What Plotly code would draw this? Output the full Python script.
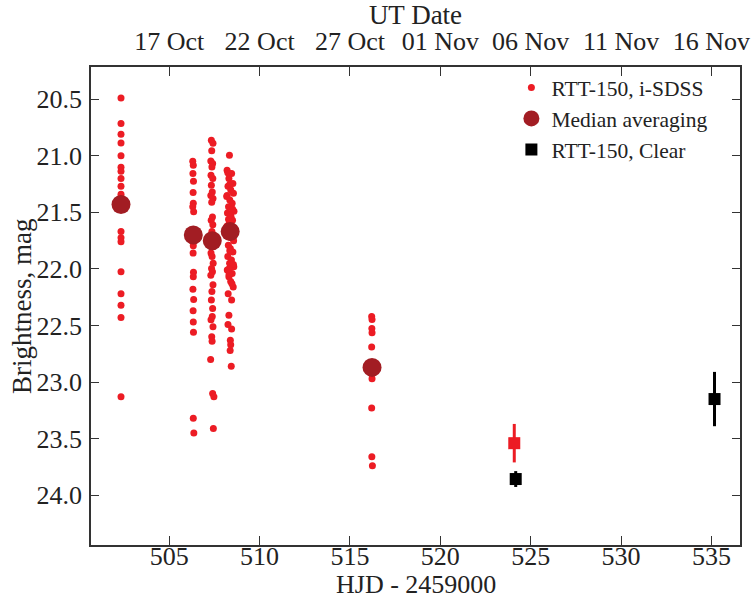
import plotly.graph_objects as go

# ---- data ----
# night 1 (HJD-2459000 ~ 502.3)
n1_hjd = [502.33]*18
n1_mag = [20.49, 20.715, 20.81, 20.886, 21.0, 21.10, 21.136, 21.27, 21.34,
          21.67, 21.725, 21.76, 22.025, 22.22, 22.32, 22.43, 23.13, 21.2]
# night 2 (~506.3)
n2_hjd = [506.30, 506.33, 506.31, 506.34, 506.32, 506.33, 506.30, 506.35, 506.33,
          506.32, 506.34, 506.33, 506.31, 506.35, 506.32, 506.33, 506.34, 506.31,
          506.33, 506.36]
n2_mag = [21.048, 21.083, 21.157, 21.224, 21.325, 21.42, 21.45, 21.495, 21.796,
          21.86, 22.03, 22.07, 22.18, 22.27, 22.37, 22.47, 22.56, 21.75, 23.32, 23.45]
# night 3 (~507.4)
n3_hjd = [507.33, 507.42, 507.35, 507.30, 507.40, 507.36, 507.31, 507.41, 507.33,
          507.38, 507.30, 507.42, 507.35, 507.39, 507.32, 507.41, 507.36, 507.40,
          507.31, 507.37, 507.43, 507.34, 507.39, 507.30, 507.42, 507.36, 507.33,
          507.40, 507.38, 507.31, 507.42, 507.35, 507.37, 507.29, 507.40, 507.47,
          507.44]
n3_mag = [20.862, 20.89, 20.956, 21.045, 21.068, 21.098, 21.171, 21.2, 21.26,
          21.32, 21.35, 21.377, 21.41, 21.54, 21.57, 21.61, 21.67, 21.80,
          21.86, 21.89, 21.95, 21.996, 22.025, 22.055, 22.14, 22.20, 22.275,
          22.35, 22.42, 22.45, 22.51, 22.60, 22.64, 22.80, 23.10, 23.13, 23.41]
# night 4 (~508.4)
n4_hjd = [508.33, 508.20, 508.45, 508.30, 508.52, 508.25, 508.40, 508.55, 508.18,
          508.35, 508.48, 508.28, 508.58, 508.22, 508.42, 508.50, 508.32, 508.20,
          508.46, 508.56, 508.27, 508.38, 508.52, 508.24, 508.44, 508.34, 508.57,
          508.21, 508.48, 508.30, 508.40, 508.54, 508.26, 508.45, 508.36, 508.20,
          508.50, 508.28, 508.42, 508.35, 508.55, 508.31, 508.47, 508.24, 508.39,
          508.30, 508.25, 508.45, 508.38, 508.40, 508.37, 508.43, 508.36, 508.30]
n4_mag = [20.995, 21.127, 21.157, 21.20, 21.245, 21.27, 21.30, 21.33, 21.36,
          21.39, 21.42, 21.45, 21.49, 21.505, 21.54, 21.57, 21.60, 21.62,
          21.70, 21.75, 21.79, 21.82, 21.85, 21.89, 21.92, 21.95, 21.98,
          22.01, 22.04, 22.07, 22.11, 22.16, 22.22, 22.275, 21.25, 21.35,
          21.47, 21.56, 21.66, 21.84, 21.96, 22.05, 22.13, 21.15, 21.52,
          22.41, 22.49, 22.53, 22.63, 22.67, 22.72, 22.86, 21.72, 22.0]
# night 5 (~516.2)
n5_hjd = [516.20, 516.22, 516.21, 516.22, 516.20, 516.22, 516.21, 516.20, 516.21, 516.24]
n5_mag = [22.42, 22.446, 22.526, 22.565, 22.69, 22.97, 22.93, 23.23, 23.66, 23.74]

med_hjd = [502.33, 506.33, 507.38, 508.37, 516.22]
med_mag = [21.43, 21.70, 21.75, 21.67, 22.87]

red_sq_hjd = [524.09]
red_sq_mag = [23.54]
red_sq_err = [0.17]

clear_hjd = [524.17, 535.17]
clear_mag = [23.857, 23.15]
clear_err = [0.07, 0.24]

tick_hjd = [505, 510, 515, 520, 525, 530, 535]
tick_dates = ["17 Oct", "22 Oct", "27 Oct", "01 Nov", "06 Nov", "11 Nov", "16 Nov"]
tick_mag = [20.5, 21.0, 21.5, 22.0, 22.5, 23.0, 23.5, 24.0]

FONT = "Liberation Serif"
RED = "#ec1c24"
DARKRED = "#a21d23"

all_hjd = n1_hjd + n2_hjd + n3_hjd + n4_hjd + n5_hjd
all_mag = n1_mag + n2_mag + n3_mag + n4_mag + n5_mag

fig = go.Figure()
fig.add_trace(go.Scatter(x=all_hjd, y=all_mag, mode="markers",
                         marker=dict(color=RED, size=7, line=dict(width=0)),
                         name="RTT-150, i-SDSS"))
fig.add_trace(go.Scatter(x=med_hjd, y=med_mag, mode="markers",
                         marker=dict(color=DARKRED, size=19, line=dict(width=0)),
                         name="Median averaging"))
fig.add_trace(go.Scatter(x=red_sq_hjd, y=red_sq_mag, mode="markers",
                         marker=dict(color=RED, size=12, symbol="square", line=dict(width=0)),
                         error_y=dict(type="data", array=red_sq_err, color=RED,
                                      thickness=3, width=0),
                         showlegend=False))
fig.add_trace(go.Scatter(x=clear_hjd, y=clear_mag, mode="markers",
                         marker=dict(color="black", size=12, symbol="square", line=dict(width=0)),
                         error_y=dict(type="data", array=clear_err, color="black",
                                      thickness=3, width=0),
                         name="RTT-150, Clear"))
fig.add_trace(go.Scatter(x=[None], y=[None], xaxis="x2", showlegend=False,
                         hoverinfo="skip"))

xr = [500.67, 536.58]
axcol = "#333333"
TICKF = dict(size=26, family=FONT, color="#222222")
TITLEF = dict(size=27, family=FONT, color="#222222")
XTITLEF = dict(size=26, family=FONT, color="#222222")
PLOT_H = 601 - 67 - 56
PLOT_W = 756 - 91 - 16
fig.update_layout(
    width=756, height=601,
    margin=dict(l=91, r=16, t=67, b=56, autoexpand=False),
    paper_bgcolor="white", plot_bgcolor="white",
    font=dict(family=FONT, size=26, color="#222222"),
    showlegend=True,
    legend=dict(x=0.959, xanchor="right", y=1.0, yanchor="top",
                bgcolor="rgba(0,0,0,0)", font=dict(size=21.5, family=FONT, color="#222222"),
                itemsizing="trace", tracegroupgap=0),
    xaxis=dict(range=xr, tickvals=tick_hjd, ticks="inside", ticklen=9,
               tickwidth=1.3, tickcolor=axcol, showline=True, linecolor=axcol,
               linewidth=1.5, mirror=True, showgrid=False, zeroline=False,
               tickfont=TICKF, ticklabelstandoff=-13, automargin=False),
    xaxis2=dict(range=xr, overlaying="x", side="top", tickvals=tick_hjd,
                ticktext=tick_dates, ticks="inside", ticklen=9, tickwidth=1.3,
                tickcolor=axcol, showline=False, showgrid=False, zeroline=False,
                tickfont=TICKF, ticklabelstandoff=11, automargin=False,
                title=dict(text="UT Date", standoff=0, font=TITLEF)),
    yaxis=dict(range=[24.44, 20.215], tickvals=tick_mag,
               tickformat=".1f", ticks="inside", ticklen=8, tickwidth=1.3,
               tickcolor=axcol, showline=True, linecolor=axcol, linewidth=1.5,
               mirror="ticks", showgrid=False, zeroline=False,
               tickfont=TICKF, ticklabelstandoff=2, automargin=False),
    annotations=[
        dict(text="HJD - 2459000", xref="paper", yref="paper", x=0.5,
             y=-(600 - 545) / PLOT_H, xanchor="center", yanchor="bottom",
             showarrow=False, font=XTITLEF, borderpad=0),
        dict(text="Brightness, mag", xref="paper", yref="paper",
             x=-(91 - 22) / PLOT_W, y=0.5, xanchor="center", yanchor="middle",
             textangle=-90, showarrow=False, font=TITLEF),
    ],
)

fig.write_html("out.html")
